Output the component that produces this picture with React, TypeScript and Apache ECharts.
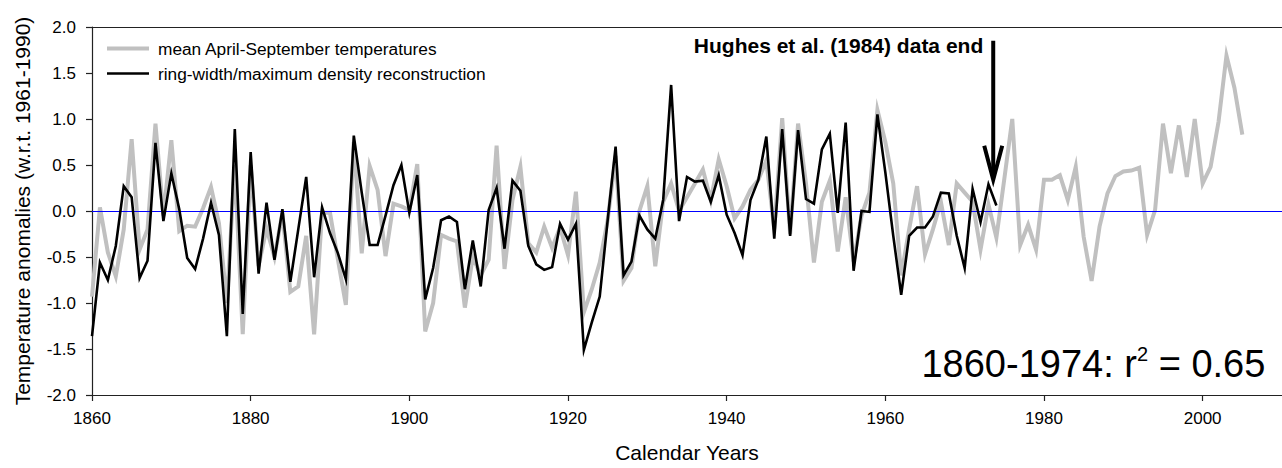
import { useEffect, useRef } from "react";
import * as echarts from "echarts";

const FIRST_YEAR = 1860;

// mean April-September temperatures, 1860-2005 (one value per year)
const temperature = [
  -0.93, 0.04, -0.45, -0.71, -0.2, 0.78, -0.42, -0.2, 0.95, -0.05, // 1860s
  0.77, -0.22, -0.16, -0.17, 0.03, 0.26, -0.13, -1.0, 0.5, -1.34, // 1870s
  0.5, -0.6, -0.19, -0.5, -0.02, -0.88, -0.82, -0.27, -1.34, -0.02, // 1880s
  -0.02, -0.53, -1.02, 0.75, -0.46, 0.49, 0.23, -0.49, 0.08, 0.05, // 1890s
  0.01, 0.51, -1.31, -1.0, -0.26, -0.3, -0.33, -1.05, -0.5, -0.7, // 1900s
  -0.53, 0.71, -0.63, 0.12, 0.48, -0.35, -0.45, -0.17, -0.4, -0.18, // 1910s
  -0.48, 0.21, -1.1, -0.85, -0.56, -0.1, 0.6, -0.76, -0.62, 0.0, // 1920s
  0.27, -0.6, 0.1, 0.3, 0.0, 0.15, 0.3, 0.45, 0.12, 0.56, // 1930s
  0.27, -0.08, 0.05, 0.23, 0.34, 0.55, -0.2, 1.01, -0.25, 0.95, // 1940s
  0.3, -0.56, 0.1, 0.33, -0.44, 0.15, -0.55, -0.05, 0.2, 1.1, // 1950s
  0.75, 0.3, -0.7, -0.2, 0.27, -0.47, -0.2, 0.1, -0.37, 0.3, // 1960s
  0.2, 0.1, -0.42, 0.07, -0.29, 0.35, 1.0, -0.37, -0.15, -0.42, // 1970s
  0.34, 0.34, 0.39, 0.12, 0.48, -0.28, -0.76, -0.17, 0.19, 0.38, // 1980s
  0.43, 0.44, 0.47, -0.26, 0.01, 0.95, 0.41, 0.93, 0.37, 1.0, // 1990s
  0.3, 0.48, 0.97, 1.69, 1.34, 0.83, // 2000-2005
];

// ring-width/maximum density reconstruction, 1860-1974
const reconstruction = [
  -1.36, -0.56, -0.75, -0.38, 0.27, 0.15, -0.73, -0.54, 0.74, -0.11, // 1860s
  0.41, 0.02, -0.51, -0.63, -0.3, 0.09, -0.26, -1.36, 0.89, -1.12, // 1870s
  0.64, -0.68, 0.09, -0.53, 0.02, -0.77, -0.2, 0.37, -0.72, 0.04, // 1880s
  -0.24, -0.46, -0.74, 0.82, 0.2, -0.37, -0.37, -0.05, 0.28, 0.5, // 1890s
  -0.02, 0.39, -0.96, -0.62, -0.1, -0.06, -0.12, -0.85, -0.32, -0.82, // 1900s
  0.01, 0.25, -0.41, 0.33, 0.22, -0.38, -0.58, -0.64, -0.61, -0.14, // 1910s
  -0.31, -0.14, -1.51, -1.21, -0.93, -0.1, 0.7, -0.7, -0.55, -0.05, // 1920s
  -0.2, -0.3, 0.12, 1.37, -0.11, 0.37, 0.32, 0.33, 0.1, 0.39, // 1930s
  -0.04, -0.24, -0.48, 0.12, 0.34, 0.81, -0.3, 0.89, -0.27, 0.88, // 1940s
  0.13, 0.08, 0.67, 0.84, -0.02, 0.96, -0.65, 0.0, -0.01, 1.05, // 1950s
  0.42, -0.27, -0.91, -0.27, -0.18, -0.18, -0.06, 0.2, 0.19, -0.27, // 1960s
  -0.62, 0.24, -0.12, 0.29, 0.06, // 1970-1974
];

const seriesNames = [
  "mean April-September temperatures",
  "ring-width/maximum density reconstruction",
];
const xTickYears = [1860, 1880, 1900, 1920, 1940, 1960, 1980, 2000];
const yTickValues = [-2, -1.5, -1, -0.5, 0, 0.5, 1, 1.5, 2];
const xAxisTitle = "Calendar Years";
const yAxisTitle = "Temperature anomalies (w.r.t. 1961-1990)";
const noteText = "Hughes et al. (1984) data end";
const noteArrow = { year: 1973.6, from: 1.85, to: 0.34 };
const statPrefix = "1860-1974: r";
const statSup = "2";
const statSuffix = " = 0.65";

const FONT = "'Liberation Sans', Arial, Helvetica, sans-serif";

function toPairs(values: number[]) {
  return values.map((v, i) => [FIRST_YEAR + i, v]);
}

export default function App() {
  const ref = useRef<HTMLDivElement | null>(null);

  useEffect(() => {
    if (!ref.current) return;
    const chart = echarts.init(ref.current, undefined, { renderer: "svg" });

    chart.setOption({
      animation: false,
      backgroundColor: "#ffffff",
      textStyle: { fontFamily: FONT },
      grid: { left: 92, right: -2.5, top: 27, bottom: 72 },
      legend: {
        orient: "vertical",
        left: 102,
        top: 35,
        itemWidth: 42,
        itemHeight: 14,
        itemGap: 8,
        selectedMode: false,
        textStyle: {
          fontFamily: FONT,
          fontSize: 17.3,
          color: "#000",
          lineHeight: 14,
          padding: [0, 0, 0, 4],
        },
        data: [
          { name: seriesNames[0], icon: "path://M0,0H42V4H0Z" },
          { name: seriesNames[1], icon: "path://M0,0H42V2.6H0Z" },
        ],
      },
      xAxis: [
        {
          type: "value",
          min: 1860,
          max: 2010,
          interval: 20,
          name: xAxisTitle,
          nameLocation: "middle",
          nameGap: 47,
          nameTextStyle: { fontFamily: FONT, fontSize: 21, color: "#000" },
          axisLine: { show: true, onZero: false, lineStyle: { color: "#222", width: 1.2 } },
          axisTick: { show: true, length: 6, lineStyle: { color: "#222", width: 1.2 } },
          axisLabel: {
            margin: 15,
            fontFamily: FONT,
            fontSize: 17,
            color: "#000",
            showMaxLabel: false,
            formatter: (v: number) => (xTickYears.includes(v) ? String(v) : ""),
          },
          splitLine: { show: false },
        },
        {
          type: "value",
          position: "top",
          min: 1860,
          max: 2010,
          axisLine: { show: true, onZero: false, lineStyle: { color: "#222", width: 1.2 } },
          axisTick: { show: false },
          axisLabel: { show: false },
          splitLine: { show: false },
        },
      ],
      yAxis: {
        type: "value",
        min: -2,
        max: 2,
        interval: 0.5,
        name: yAxisTitle,
        nameLocation: "middle",
        nameRotate: 90,
        nameGap: 59,
        nameTextStyle: { fontFamily: FONT, fontSize: 21, color: "#000" },
        axisLine: { show: true, onZero: false, lineStyle: { color: "#222", width: 1.2 } },
        axisTick: { show: true, length: 6, lineStyle: { color: "#222", width: 1.2 } },
        axisLabel: {
          margin: 16,
          fontFamily: FONT,
          fontSize: 17,
          color: "#000",
          formatter: (v: number) => (yTickValues.some((t) => Math.abs(t - v) < 1e-9) ? v.toFixed(1) : ""),
        },
        splitLine: { show: false },
      },
      series: [
        {
          name: seriesNames[0],
          type: "line",
          xAxisIndex: 0,
          data: toPairs(temperature),
          showSymbol: false,
          symbol: "none",
          z: 2,
          color: "#c0c0c0",
          lineStyle: { color: "#c0c0c0", width: 4, join: "miter", miterLimit: 6 },
          markLine: {
            silent: true,
            symbol: "none",
            label: { show: false },
            lineStyle: { color: "#0000ff", width: 1.2, type: "solid" },
            data: [{ yAxis: 0 }],
            z: 4,
          },
        },
        {
          name: seriesNames[1],
          type: "line",
          xAxisIndex: 0,
          data: toPairs(reconstruction),
          showSymbol: false,
          symbol: "none",
          z: 6,
          color: "#000000",
          lineStyle: { color: "#000000", width: 2.6, join: "miter", miterLimit: 6 },
        },
      ],
    });

    const top = chart.convertToPixel({ xAxisIndex: 0, yAxisIndex: 0 }, [noteArrow.year, noteArrow.from]) as number[];
    const tip = chart.convertToPixel({ xAxisIndex: 0, yAxisIndex: 0 }, [noteArrow.year, noteArrow.to]) as number[];
    const statX = chart.convertToPixel({ xAxisIndex: 0, yAxisIndex: 0 }, [2007.9, -1.45]) as number[];

    chart.setOption({
      graphic: [
        {
          type: "line",
          shape: { x1: top[0], y1: top[1], x2: tip[0], y2: tip[1] - 3 },
          style: { stroke: "#000", lineWidth: 4 },
          z: 10,
        },
        {
          type: "polyline",
          shape: {
            points: [
              [tip[0] - 9, tip[1] - 34],
              [tip[0], tip[1]],
              [tip[0] + 9, tip[1] - 34],
            ],
          },
          style: { stroke: "#000", lineWidth: 4, fill: "none", lineJoin: "miter", miterLimit: 10 },
          z: 10,
        },
        {
          type: "text",
          x: top[0] - 10,
          y: top[1] + 5,
          z: 10,
          style: {
            text: noteText,
            fill: "#000",
            fontFamily: FONT,
            fontWeight: "bold",
            fontSize: 21,
            align: "right",
            verticalAlign: "middle",
          },
        },
        {
          type: "text",
          x: statX[0],
          y: statX[1],
          z: 10,
          style: {
            text: `{a|${statPrefix}}{b|${statSup}}{a|${statSuffix}}`,
            align: "right",
            verticalAlign: "top",
            rich: {
              a: { fontFamily: FONT, fontSize: 38, lineHeight: 40, fill: "#000" },
              b: { fontFamily: FONT, fontSize: 20, lineHeight: 10, verticalAlign: "top", fill: "#000" },
            },
          },
        },
      ],
    });

    return () => {
      chart.dispose();
    };
  }, []);

  return (
    <div
      ref={ref}
      style={{ position: "absolute", left: 0, top: 0, width: 1282, height: 468, background: "#fff" }}
    />
  );
}
